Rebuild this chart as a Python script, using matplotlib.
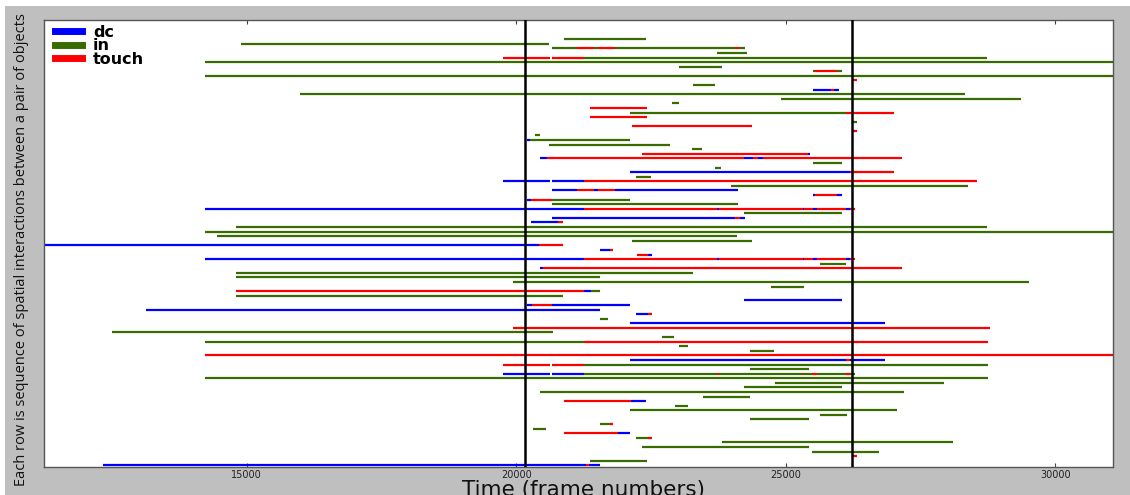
import matplotlib
matplotlib.use("Agg")
import matplotlib.pyplot as plt
from matplotlib.lines import Line2D
from matplotlib.patches import Rectangle

# ---- data (frame numbers) ----
dc_row = [82, 82, 71, 68, 67, 67, 67, 64, 62, 62, 60, 60, 60, 59, 59, 58,
          56, 56, 56, 56, 56, 54, 54, 53, 48, 47, 46,
          45, 45, 45, 45, 45, 43, 38, 36, 35, 35, 34, 33, 31, 23, 23,
          20, 20, 14, 7, 0, 0]
dc_start = [25511, 25894, 20194, 25407, 20441, 24230, 24479, 22105, 19749, 20658,
            20669, 21442, 21838, 25511, 25956, 20194,
            14221, 23730, 25314, 25511, 26117, 20669, 24151, 20268, 11240, 21554, 22450,
            14221, 23730, 25314, 25511, 26117, 20441, 21257, 24230, 20194, 20658, 13138,
            22227, 22105, 22105, 26191,
            19749, 20658, 22123, 21893, 12334, 21350]
dc_end = [25833, 25993, 20255, 25449, 20565, 24397, 24577, 26191, 20626, 21257,
          21133, 21517, 24119, 25542, 26037, 20268,
          21257, 23756, 25344, 25574, 26191, 24058, 24244, 20780, 20417, 21739, 22513,
          21257, 23756, 25344, 25574, 26191, 20502, 21380, 26048, 20287, 22110, 21554,
          22450, 26846, 26117, 26846,
          20626, 21257, 22401, 22105, 21294, 21554]

in_row = [93, 92, 91, 91, 91, 91, 90, 89, 88, 87, 86, 86, 85, 83, 81, 80, 79, 77,
          75, 72, 71, 70, 69, 66, 65, 63, 61, 58, 57, 55, 52, 51, 50, 49, 44, 42,
          41, 40, 39, 38, 37, 32, 29, 28, 27, 26, 25, 22, 21,
          20, 20, 20, 20, 20, 19, 18, 17, 16, 15, 13, 12, 11, 10, 9, 8, 6, 5, 4, 3, 1]
in_start = [20891, 14889, 20669, 21442, 21838, 24138, 23719, 21257, 14221, 23019,
            25511, 25956, 14221, 23273, 15989, 24906, 22889, 22110,
            26234, 20342, 20255, 20613, 23255, 25511, 23687, 22227, 24002, 20658,
            20658, 24230, 14802, 14221, 14449, 22153, 25635, 14802,
            14802, 19945, 24720, 21380, 14802, 21554, 12496, 22709, 14221, 23025,
            24336, 21257, 24336,
            21257, 23756, 25344, 25574, 26191, 14221, 24800, 24230, 20441, 23459,
            22951, 22105, 25635, 24336, 21554, 20311, 22227, 23811, 22338, 25481, 21368]
in_end = [22401, 20613, 21133, 21517, 24064, 24238, 24281, 28733, 31070, 23811,
          25542, 26037, 31070, 23687, 28325, 29363, 23019, 26117,
          26327, 20441, 22110, 22847, 23446, 26037, 23793, 22505, 28380, 22110,
          24119, 26048, 28733, 31070, 24101, 24368, 26117, 23273,
          21554, 29512, 25344, 21554, 20873, 21697, 20687, 22932, 21257, 23181,
          24787, 28746, 25436,
          23730, 25314, 25492, 26117, 26284, 28746, 27941, 26048, 27187, 24336,
          23181, 27063, 26130, 25436, 21739, 20546, 22450, 28096, 25436, 26729, 22420]

touch_row = [91, 91, 91, 89, 89, 86, 84, 82, 78, 77, 76, 74, 73, 68, 67, 67, 67,
             64, 62, 61, 60, 60, 59, 58, 56, 56, 56, 56, 56, 54, 53, 48, 47, 46,
             45, 45, 45, 45, 45, 43, 38, 35, 33, 30, 27, 24, 23, 22, 22,
             20, 20, 20, 20, 14, 9, 7, 6, 2, 0]
touch_start = [21133, 21517, 24064, 19749, 20658, 25542, 26234, 25833, 21368, 26117,
               21368, 22153, 26234, 22338, 20565, 24397, 24577,
               26191, 21257, 23978, 21133, 21517, 25542, 20268,
               21257, 23756, 25344, 25574, 26191, 24058, 20780, 20417, 21739, 22235,
               21257, 23756, 25344, 25574, 26191, 20502, 14802, 20287, 22450, 19945,
               21257, 14221, 26117, 19749, 20658,
               23730, 25314, 25492, 26117, 20891, 21739, 20891, 22450, 26234, 21294]
touch_end = [21442, 21838, 24138, 20626, 21257, 25956, 26327, 25894, 22420, 27002,
             22420, 24368, 26327, 25407, 24230, 24479, 27150,
             27002, 28547, 24002, 21442, 21838, 25956, 20658,
             23730, 25314, 25511, 26117, 26284, 24151, 20873, 20873, 21800, 22450,
             23730, 25314, 25511, 26117, 26284, 27156, 21257, 20658, 22513, 28794,
             28746, 31070, 26191, 20626, 21257,
             23756, 25344, 25574, 26191, 22123, 21800, 21893, 22513, 26327, 21350]

labels = ["dc", "in", "touch"]
colors = ["#0000ff", "#386c00", "#ff0000"]
markers_x = [20157, 26234]   # vertical reference lines
xticks = [15000, 20000, 25000, 30000]

# ---- figure ----
fig = plt.figure(figsize=(11.3, 4.95), dpi=100, facecolor="white")
fig.patches.append(Rectangle((5 / 1130, 0), 1 - 5 / 1130, (495 - 6) / 495,
                             transform=fig.transFigure, facecolor="#bfbfbf",
                             edgecolor="none", zorder=-1))
ax = fig.add_axes([44 / 1130, (495 - 467) / 495, (1113 - 44) / 1130, (467 - 20) / 495])
ax.set_facecolor("white")

series = [(dc_row, dc_start, dc_end), (in_row, in_start, in_end),
          (touch_row, touch_start, touch_end)]
for (rows, s, e), c in zip(series, colors):
    ax.hlines(rows, s, e, colors=c, lw=1.6, capstyle="butt", zorder=2)

for xv in markers_x:
    ax.axvline(xv, color="black", lw=1.8, zorder=3)

ax.set_xlim(11240, 31070)
ax.set_ylim(-0.37, 97.2)
ax.set_xticks(xticks)
ax.set_xticklabels([str(t) for t in xticks], fontsize=7, color="#222222")
ax.set_yticks([])
ax.tick_params(axis="x", direction="in", top=True, length=3, pad=2, color="#444444")
for sp in ax.spines.values():
    sp.set_color("#555555")
    sp.set_linewidth(1.0)

ax.set_xlabel("Time (frame numbers)", fontsize=15.5, color="#111111")
ax.xaxis.set_label_coords(0.505, -0.028)
ax.set_ylabel("Each row is sequence of spatial interactions between a pair of objects",
              fontsize=10.5, family="Open Sans", color="#111111")
ax.yaxis.set_label_coords(-0.014, 0.4855)

handles = [Line2D([0], [0], color=c, lw=5) for c in colors]
ax.legend(handles, labels, loc="upper left", frameon=False,
          prop={"weight": "bold", "size": 11.5}, handlelength=1.7,
          handletextpad=0.65, labelspacing=-0.1, borderaxespad=0.0,
          borderpad=0.0, bbox_to_anchor=(0.0105, 0.989))

fig.savefig("out.png", dpi=100, facecolor=fig.get_facecolor())
